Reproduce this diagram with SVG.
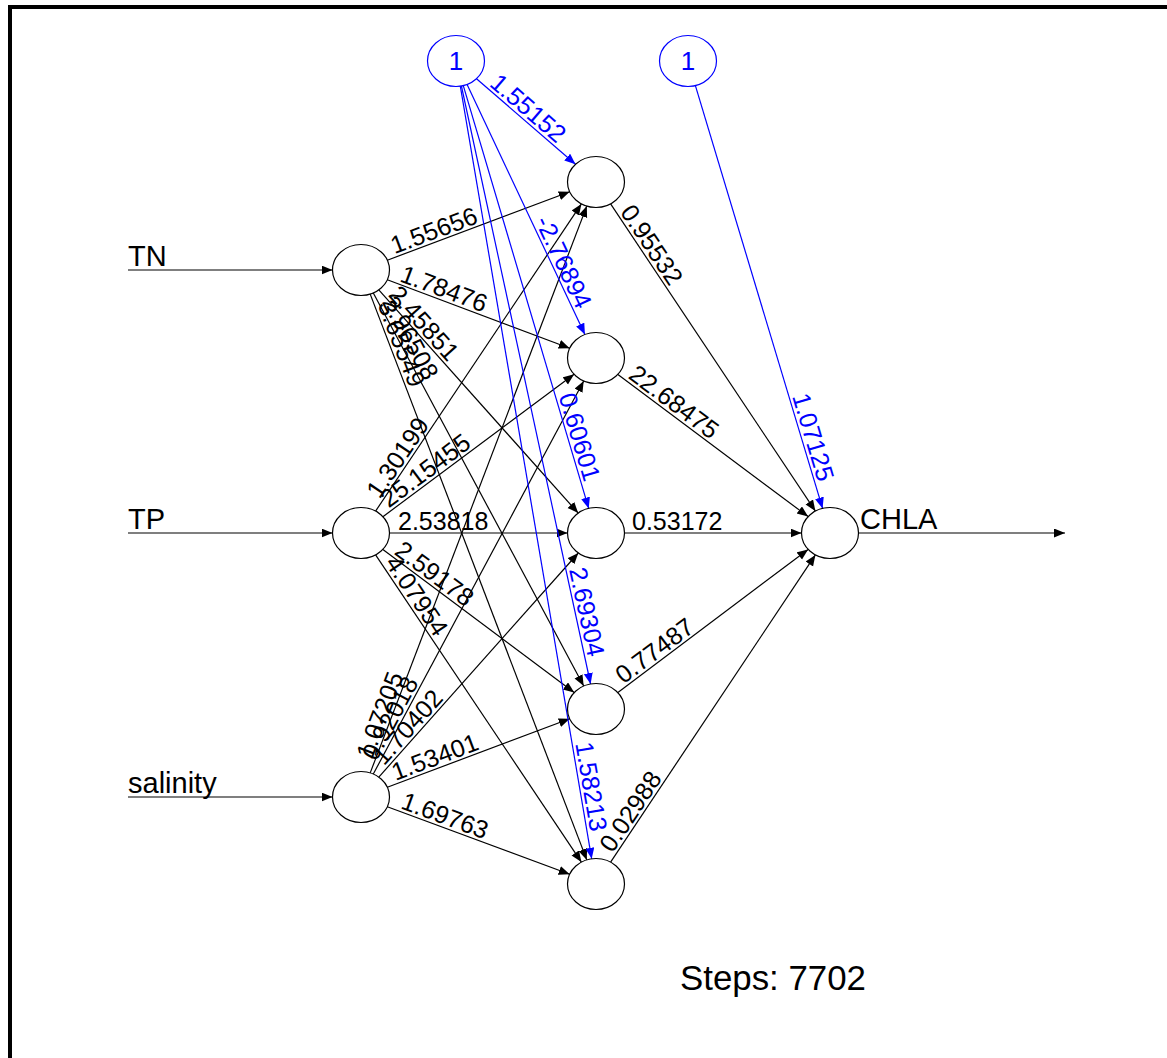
<svg xmlns="http://www.w3.org/2000/svg" width="1167" height="1058" viewBox="0 0 1167 1058">
<style>
  .n { fill: #fff; stroke: #000; stroke-width: 1.2; }
  .e { stroke: #000; stroke-width: 1.2; fill: none; marker-end: url(#ah); }
  .b { stroke: #0000ff; stroke-width: 1.2; fill: none; marker-end: url(#ahb); }
  .lb { font-family: "Liberation Sans", Arial, sans-serif; font-size: 25px; fill: #000; }
  .lbb { font-family: "Liberation Sans", Arial, sans-serif; font-size: 25px; fill: #0000ff; }
  .nm { font-family: "Liberation Sans", Arial, sans-serif; font-size: 29px; fill: #000; }
  .one { font-family: "Liberation Sans", Arial, sans-serif; font-size: 26px; fill: #0000ff; text-anchor: middle; }
  .bn { fill: #fff; stroke: #0000ff; stroke-width: 1.2; }
</style>
<defs>
  <marker id="ah" markerUnits="userSpaceOnUse" markerWidth="12" markerHeight="10" refX="11" refY="4.5" orient="auto"><path d="M0,0 L11,4.5 L0,9 z" fill="#000"/></marker>
  <marker id="ahb" markerUnits="userSpaceOnUse" markerWidth="12" markerHeight="10" refX="11" refY="4.5" orient="auto"><path d="M0,0 L11,4.5 L0,9 z" fill="#0000ff"/></marker>
</defs>
<rect width="1167" height="1058" fill="#fff"/>
<path d="M8,7 H1167 M10,5 V1058" stroke="#000" stroke-width="4" fill="none"/>

<g id="connectors">
  <line class="e" x1="128" y1="270" x2="332.5" y2="270"/>
  <line class="e" x1="128" y1="533" x2="332.5" y2="533"/>
  <line class="e" x1="128" y1="797" x2="332.5" y2="797"/>
  <line class="e" x1="858.5" y1="533" x2="1065" y2="533"/>

  <line class="e" x1="387.3" y1="260.2" x2="569.7" y2="191.8"/>
  <line class="e" x1="387.3" y1="279.8" x2="569.7" y2="348.2"/>
  <line class="e" x1="378.8" y1="289.9" x2="578.2" y2="513.1"/>
  <line class="e" x1="373.3" y1="293.0" x2="583.7" y2="686.0"/>
  <line class="e" x1="370.2" y1="294.1" x2="586.8" y2="859.9"/>

  <line class="e" x1="375.6" y1="511.1" x2="581.4" y2="203.9"/>
  <line class="e" x1="382.9" y1="516.7" x2="574.1" y2="374.3"/>
  <line class="e" x1="389.5" y1="533" x2="567.5" y2="533"/>
  <line class="e" x1="382.9" y1="549.4" x2="574.2" y2="692.6"/>
  <line class="e" x1="375.6" y1="554.9" x2="581.4" y2="862.1"/>

  <line class="e" x1="370.2" y1="772.9" x2="586.8" y2="206.1"/>
  <line class="e" x1="373.3" y1="774.0" x2="583.7" y2="381.0"/>
  <line class="e" x1="378.8" y1="777.1" x2="578.3" y2="553.0"/>
  <line class="e" x1="387.3" y1="787.2" x2="569.7" y2="718.8"/>
  <line class="e" x1="387.3" y1="806.7" x2="569.7" y2="874.3"/>

  <line class="b" x1="476.5" y1="78.7" x2="575.5" y2="164.3"/>
  <line class="b" x1="467.1" y1="84.5" x2="584.9" y2="334.5"/>
  <line class="b" x1="463.3" y1="85.7" x2="588.7" y2="508.4"/>
  <line class="b" x1="461.4" y1="86.0" x2="590.6" y2="684.0"/>
  <line class="b" x1="460.3" y1="86.2" x2="591.7" y2="858.8"/>
  <line class="b" x1="695.4" y1="85.6" x2="822.6" y2="508.4"/>

  <line class="e" x1="610.6" y1="203.9" x2="815.4" y2="511.1"/>
  <line class="e" x1="617.9" y1="374.4" x2="808.1" y2="516.6"/>
  <line class="e" x1="624.5" y1="533" x2="801.5" y2="533"/>
  <line class="e" x1="617.9" y1="692.6" x2="808.1" y2="549.4"/>
  <line class="e" x1="610.6" y1="862.1" x2="815.4" y2="554.9"/>

  <g id="weights">
    <text class="lb" transform="translate(395.6,257.1) rotate(-20.5)" y="-3">1.55656</text>
    <text class="lb" transform="translate(397.6,283.7) rotate(20.5)" y="-3">1.78476</text>
    <text class="lb" transform="translate(385.3,297.3) rotate(48.2)" y="-3">2.45851</text>
    <text class="lb" transform="translate(378.9,303.5) rotate(61.8)" y="-3">2.96508</text>
    <text class="lb" transform="translate(374.6,305.5) rotate(69.1)" y="-3">3.65549</text>

    <text class="lb" transform="translate(382.1,501.4) rotate(-56.2)" y="-3">1.30199</text>
    <text class="lb" transform="translate(390.5,511.0) rotate(-36.7)" y="-3">25.15455</text>
    <text class="lb" transform="translate(398,533)" y="-3">2.53818</text>
    <text class="lb" transform="translate(391.4,555.8) rotate(36.8)" y="-3">2.59178</text>
    <text class="lb" transform="translate(382.1,564.6) rotate(56.2)" y="-3">4.07954</text>

    <text class="lb" transform="translate(374.6,761.5) rotate(-69.1)" y="-3">1.07205</text>
    <text class="lb" transform="translate(378.9,763.5) rotate(-61.8)" y="-3">0.92018</text>
    <text class="lb" transform="translate(386.3,768.6) rotate(-48.3)" y="-3">1.70402</text>
    <text class="lb" transform="translate(396.6,783.7) rotate(-20.5)" y="-3">1.53401</text>
    <text class="lb" transform="translate(398.6,810.9) rotate(20.3)" y="-3">1.69763</text>

    <text class="lbb" transform="translate(486.5,87.4) rotate(40.8)" y="-3">1.55152</text>
    <text class="lbb" transform="translate(532.1,222.3) rotate(64.8)" y="-3">-2.76894</text>
    <text class="lbb" transform="translate(555.6,396.9) rotate(73.5)" y="-3">0.60601</text>
    <text class="lbb" transform="translate(566.0,570.2) rotate(77.8)" y="-3">2.69304</text>
    <text class="lbb" transform="translate(572.2,744.0) rotate(80.3)" y="-3">1.58213</text>
    <text class="lbb" transform="translate(789.1,397.0) rotate(73.3)" y="-3">1.07125</text>

    <text class="lb" transform="translate(617.1,213.6) rotate(56.3)" y="-3">0.95532</text>
    <text class="lb" transform="translate(625.4,380.0) rotate(36.8)" y="-3">22.68475</text>
    <text class="lb" transform="translate(632,533)" y="-3">0.53172</text>
    <text class="lb" transform="translate(625.4,687.0) rotate(-36.9)" y="-3">0.77487</text>
    <text class="lb" transform="translate(615.1,855.4) rotate(-56.3)" y="-3">0.02988</text>
  </g>
</g>

<g id="node-TN"><ellipse class="n" cx="361" cy="270" rx="28.5" ry="25.5"/><text class="nm" x="128" y="266">TN</text></g>
<g id="node-TP"><ellipse class="n" cx="361" cy="533" rx="28.5" ry="25.5"/><text class="nm" x="128" y="529">TP</text></g>
<g id="node-salinity"><ellipse class="n" cx="361" cy="797" rx="28.5" ry="25.5"/><text class="nm" x="128" y="793">salinity</text></g>
<g id="node-H1"><ellipse class="n" cx="596" cy="182" rx="28.5" ry="25.5"/></g>
<g id="node-H2"><ellipse class="n" cx="596" cy="358" rx="28.5" ry="25.5"/></g>
<g id="node-H3"><ellipse class="n" cx="596" cy="533" rx="28.5" ry="25.5"/></g>
<g id="node-H4"><ellipse class="n" cx="596" cy="709" rx="28.5" ry="25.5"/></g>
<g id="node-H5"><ellipse class="n" cx="596" cy="884" rx="28.5" ry="25.5"/></g>
<g id="node-CHLA"><ellipse class="n" cx="830" cy="533" rx="28.5" ry="25.5"/><text class="nm" x="860" y="529">CHLA</text></g>
<g id="node-bias1"><ellipse class="bn" cx="456" cy="61" rx="28.5" ry="25.5"/><text class="one" x="456" y="70">1</text></g>
<g id="node-bias2"><ellipse class="bn" cx="688" cy="61" rx="28.5" ry="25.5"/><text class="one" x="688" y="70">1</text></g>

<text class="nm" x="680" y="990" style="font-size:35px" textLength="186" lengthAdjust="spacingAndGlyphs">Steps: 7702</text>
</svg>
